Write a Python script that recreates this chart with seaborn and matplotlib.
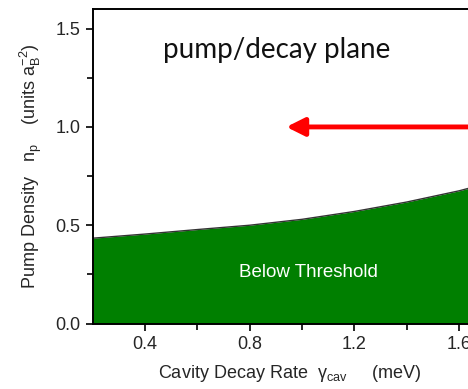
import matplotlib
matplotlib.use("Agg")
import matplotlib.pyplot as plt
import seaborn as sns
import pandas as pd
import numpy as np

# Data
gamma_cav = [0.2, 0.4, 0.6, 0.8, 1.0, 1.2, 1.4, 1.6, 1.8]
pump_threshold = [0.434, 0.455, 0.478, 0.500, 0.530, 0.570, 0.618, 0.675, 0.745]
x_ticks = [0.4, 0.8, 1.2, 1.6]
y_ticks = [0.0, 0.5, 1.0, 1.5]
title_text = "pump/decay plane"
region_text = "Below Threshold"
arrow_y = 1.0
arrow_tip_x = 0.94

sns.set_theme(style="ticks")
plt.rcParams["font.family"] = ["Liberation Sans", "DejaVu Sans"]
plt.rcParams["mathtext.fontset"] = "custom"
plt.rcParams["mathtext.rm"] = "Liberation Sans"
plt.rcParams["mathtext.it"] = "Liberation Sans"

df = pd.DataFrame({"gamma": gamma_cav, "np": pump_threshold})

fig = plt.figure(figsize=(4.68, 3.89), dpi=100)
ax_w_px = (1.8 - 0.2) * 261.7
ax_h_px = 323.5 - 9
ax = fig.add_axes([92.7 / 468, 1 - 323.5 / 389, ax_w_px / 468, ax_h_px / 389])

ax.fill_between(df["gamma"], 0, df["np"], color="#007f00", linewidth=0, zorder=1)
sns.lineplot(data=df, x="gamma", y="np", ax=ax, color="#333333", linewidth=1.0, zorder=2)

ax.set_xlim(0.2, 1.8)
ax.set_ylim(0.0, 1.6)
ax.set_xticks(x_ticks)
ax.set_yticks(y_ticks)
ax.set_xticks([0.6, 1.0, 1.4], minor=True)
ax.set_yticks([0.25, 0.75, 1.25], minor=True)
ax.xaxis.set_major_formatter(matplotlib.ticker.FormatStrFormatter("%.1f"))
ax.yaxis.set_major_formatter(matplotlib.ticker.FormatStrFormatter("%.1f"))
ax.tick_params(axis="both", which="major", direction="out", length=5, width=1.2,
               color="black", labelsize=13, labelcolor="#262626", pad=4)
ax.tick_params(axis="both", which="minor", direction="out", length=4, width=1.2, color="black")

for s in ["left", "bottom", "top", "right"]:
    ax.spines[s].set_visible(True)
    ax.spines[s].set_color("black")
    ax.spines[s].set_linewidth(1.4)

ax.set_xlabel(r"Cavity Decay Rate  $\mathregular{\gamma_{cav}}$     (meV)", fontsize=13,
              color="#262626")
ax.xaxis.label.set_verticalalignment("baseline")
ax.xaxis.set_label_coords((290 - 92.7) / ax_w_px, (323.5 - 378) / ax_h_px)
ax.set_ylabel(r"Pump Density   $\mathregular{n_p}$    (units $\mathregular{a_B^{-2}}$)", fontsize=13,
              color="#262626")
ax.yaxis.label.set_verticalalignment("baseline")
ax.yaxis.set_label_coords((36 - 92.7) / ax_w_px, (323.5 - 166) / ax_h_px)

ax.text(0.469, 1.353, title_text, fontsize=20, family=["Lato", "DejaVu Sans"],
        color="#111111", ha="left", va="baseline")
ax.text(1.023, 0.257, region_text, fontsize=13.5, color="white", ha="center", va="center")

ax.annotate("", xy=(arrow_tip_x, arrow_y), xytext=(1.8, arrow_y),
            arrowprops=dict(arrowstyle="-|>,head_length=0.9,head_width=0.45",
                            color="#ff0000", lw=3.5, shrinkA=0, shrinkB=0))

fig.savefig("out.png", dpi=100)
